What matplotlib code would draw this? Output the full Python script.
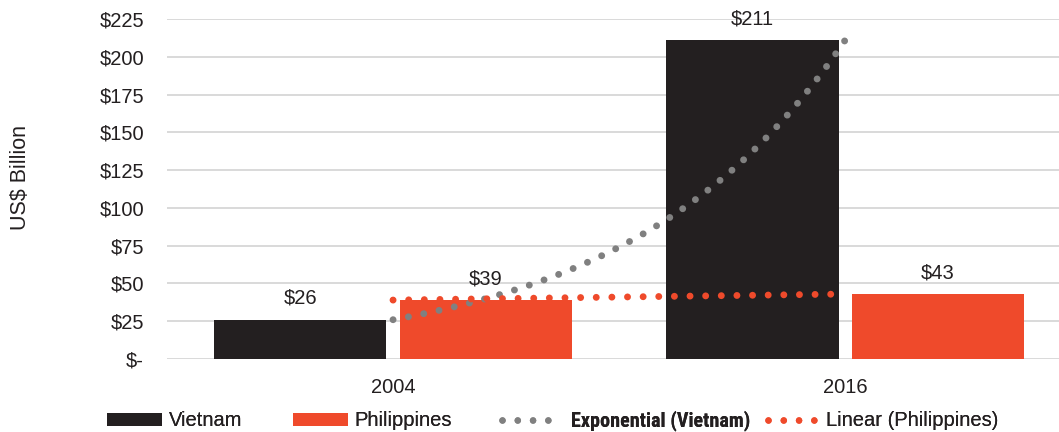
import numpy as np
import matplotlib
matplotlib.use("Agg")
import matplotlib.pyplot as plt
from matplotlib import font_manager
from matplotlib.patches import Patch
from matplotlib.lines import Line2D

# Data
years = ["2004", "2016"]
vietnam = [26, 211]
philippines = [39, 43]
y_ticks = [0, 25, 50, 75, 100, 125, 150, 175, 200, 225]
y_tick_labels = ["$-", "$25", "$50", "$75", "$100", "$125", "$150", "$175", "$200", "$225"]

DARK = "#231f20"
RED = "#ef4a2b"
GRAY = "#808080"
GRID = "#d9d9d9"
FS = 14.5

plt.rcParams["font.family"] = ["Liberation Sans", "DejaVu Sans"]

# Pick a narrow bold face for the trend-line label if one is installed
fonts = font_manager.fontManager.ttflist
narrow_family, narrow_stretch = "Liberation Sans", "normal"
for cand in ("Liberation Sans Narrow", "Arial Narrow", "Roboto Condensed", "Open Sans Condensed"):
    if any(f.name == cand for f in fonts):
        narrow_family = cand
        break
else:
    for f in fonts:
        if f.name == "DejaVu Sans" and f.stretch == "condensed":
            narrow_family, narrow_stretch = "DejaVu Sans", "condensed"
            break

W, H = 1059, 432
fig = plt.figure(figsize=(W / 100, H / 100), dpi=100)
ax = fig.add_axes([167 / W, (H - 359) / H, 1 - 167 / W, 340 / H])

x = np.arange(len(years))
w = 0.381
off = 0.205
b1 = ax.bar(x - off, vietnam, w, color=DARK, label="Vietnam", zorder=2)
b2 = ax.bar(x + off, philippines, w, color=RED, label="Philippines", zorder=2)

for bars, vals in ((b1, vietnam), (b2, philippines)):
    for r, v in zip(bars, vals):
        ax.annotate(f"${v}", (r.get_x() + r.get_width() / 2, v), xytext=(0, 8.5),
                    textcoords="offset points", ha="center", va="bottom",
                    fontsize=FS, color=DARK, annotation_clip=False)

# Trend lines fitted through the two yearly values
t = np.linspace(0, 1, 200)
v0, v1 = vietnam
exp_trend = v0 * (v1 / v0) ** t
p0, p1 = philippines
lin_trend = p0 + (p1 - p0) * t
dots = dict(linewidth=5.0, linestyle=(0, (0.001, 2.25)), dash_capstyle="round", zorder=3)
xt = x[0] + t * (x[1] - x[0])
ax.plot(xt, exp_trend, color=GRAY, **dots)
ax.plot(xt, lin_trend, color=RED, **dots)

ax.set_xlim(-0.5, 1.473)
ax.set_ylim(0, 225)
ax.set_yticks(y_ticks)
ax.set_yticklabels(y_tick_labels)
ax.set_xticks(x)
ax.set_xticklabels(years)
ax.tick_params(axis="both", length=0, labelsize=FS, labelcolor=DARK)
ax.tick_params(axis="y", pad=16.5)
ax.tick_params(axis="x", pad=14)
ax.grid(axis="y", color=GRID, linewidth=1.4, zorder=0)
ax.set_axisbelow(True)
for s in ax.spines.values():
    s.set_visible(False)

fig.text(21 / W, 1 - 177 / H, "US$ Billion", rotation=90, ha="center", va="center",
         fontsize=15.5, color=DARK)

# Legend entries, each anchored at its own horizontal position
leg_dots = dict(linewidth=4.7, linestyle=(0, (0.001, 2.34)), dash_capstyle="round")
entries = [
    (Patch(facecolor=DARK), "Vietnam", 107, 2.75, 0.3),
    (Patch(facecolor=RED), "Philippines", 293, 2.75, 0.3),
    (Line2D([], [], color=GRAY, **leg_dots), "Exponential (Vietnam)", 502, 2.34, 1.08),
    (Line2D([], [], color=RED, **leg_dots), "Linear (Philippines)", 768, 2.34, 0.55),
]
for i, (h, lab, px, hl, pad) in enumerate(entries):
    lg = fig.legend(handles=[h], labels=[lab], loc="center left",
                    bbox_to_anchor=(px / W, 1 - 421 / H), frameon=False, fontsize=FS,
                    handlelength=hl, handleheight=0.62, handletextpad=pad,
                    borderpad=0, borderaxespad=0, labelcolor=DARK)
    if i == 2:
        txt = lg.get_texts()[0]
        txt.set_fontfamily(narrow_family)
        txt.set_fontstretch(narrow_stretch)
        txt.set_fontweight("bold")
    fig.add_artist(lg)

fig.savefig("out.png", dpi=100)
